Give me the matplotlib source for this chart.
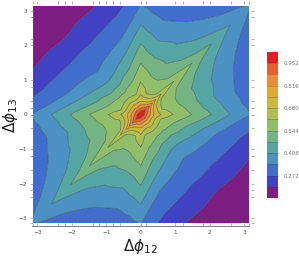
import numpy as np
import matplotlib
matplotlib.use("Agg")
import matplotlib.pyplot as plt
import matplotlib.tri as mtri

W, H = 299, 257

# sample rows y, and positions across each row as the fraction x/y
row_y = [.1, .2, .4, .6, .9, 1.25, 1.75, 2.25, 2.75, np.pi]
frac_x = [-1, -.7, -.45, -.25, -.1, 0, .1, .25, .5, .75, .9, 1]
peak_value = 1.0

# values read from the contours along each row; the rest of the square follows
# f(x,y)=f(y,x)=f(-x,-y), which is visible in the picture
row_01 = [.91, .92, .93, .94, .948, .952, .955, .958, .962, .967, .97, .972]
row_02 = [.775, .80, .825, .85, .862, .868, .874, .882, .895, .908, .92, .925]
row_04 = [.618, .65, .675, .70, .725, .735, .738, .73, .715, .725, .745, .765]
row_06 = [.528, .56, .58, .60, .64, .675, .65, .615, .60, .605, .64, .675]
row_09 = [.42, .465, .525, .555, .59, .617, .60, .57, .558, .562, .59, .62]
row_12 = [.34, .385, .44, .49, .54, .572, .555, .53, .505, .515, .545, .574]
row_17 = [.276, .31, .355, .41, .47, .512, .485, .46, .44, .455, .478, .512]
row_22 = [.198, .25, .295, .335, .40, .452, .425, .39, .385, .398, .422, .451]
row_27 = [.16, .193, .238, .283, .333, .388, .357, .337, .333, .345, .37, .388]
row_31 = [.14, .162, .197, .238, .295, .345, .325, .307, .308, .322, .332, .345]
rows = [row_01, row_02, row_04, row_06, row_09, row_12, row_17, row_22, row_27, row_31]

levels = [.136, .204, .272, .34, .408, .476, .544, .612, .68, .748, .816, .884, .952, 1.02]
cbar_ticks = [.272, .408, .544, .68, .816, .952]
band_colors = ["#7d1e82", "#4141c3", "#416ecd", "#4b91c3", "#55a5a5", "#73b482", "#91be69",
               "#afbe50", "#c8b93c", "#e1aa37", "#eb8c37", "#e65f2d", "#e11e23"]
major_ticks = [-3, -2, -1, 0, 1, 2, 3]
minor_x = [-3.14, -2.4, -2.2, -1.4, -1.2, -.8, -.6, .15, 1.22, 1.8, 2.62, 3.14]
minor_y = [2.82, 2.2, .8, .4, .2, -.4, -1.2, -1.6, -2.2, -2.4, -3.14]

index = {}
xs, ys, zs = [], [], []


def node(px, py, v):
    key = (round(px, 6), round(py, 6))
    if key not in index:
        index[key] = len(xs)
        xs.append(px)
        ys.append(py)
        zs.append(v)
    return index[key]


wedge_maps = [lambda x, y: (x, y), lambda x, y: (y, x), lambda x, y: (-x, -y), lambda x, y: (-y, -x)]
triangles = []
nu = len(frac_x)
for m in wedge_maps:
    c0 = node(*m(0.0, 0.0), peak_value)
    ids = [[node(*m(u * y, y), v) for u, v in zip(frac_x, vals)] for y, vals in zip(row_y, rows)]
    for j in range(nu - 1):
        triangles.append([c0, ids[0][j], ids[0][j + 1]])
    for i in range(len(row_y) - 1):
        for j in range(nu - 1):
            a, b, c, d = ids[i][j], ids[i][j + 1], ids[i + 1][j], ids[i + 1][j + 1]
            triangles.append([a, b, d])
            triangles.append([a, d, c])
tri = mtri.Triangulation(np.array(xs), np.array(ys), np.array(triangles))
zs = np.array(zs)

fig = plt.figure(figsize=(W / 100, H / 100), dpi=100)
fig.patch.set_facecolor("white")


def box(l, t, r, b):
    return [l / W, 1 - b / H, (r - l) / W, (b - t) / H]


ax = fig.add_axes(box(32.5, 6, 249, 223))
cf = ax.tricontourf(tri, zs, levels=levels, colors=band_colors, antialiased=True)
ax.tricontour(tri, zs, levels=levels[1:-1], colors="#2a3a3a", linewidths=0.5, alpha=0.6)
ax.set_xlim(-np.pi, np.pi)
ax.set_ylim(-np.pi, np.pi)

grey = "#808080"
for s in ax.spines.values():
    s.set_visible(False)
ax.spines["bottom"].set_visible(True)
ax.spines["bottom"].set_color(grey)
ax.spines["bottom"].set_linewidth(0.7)
ax.spines["bottom"].set_position(("outward", 2.2))
ax.spines["top"].set_position(("outward", 1.4))
ax.spines["right"].set_position(("outward", 1.4))
ax.set_xticks(major_ticks)
ax.set_yticks(major_ticks)
ax.set_xticks(minor_x, minor=True)
ax.set_yticks(minor_y, minor=True)
ax.tick_params(which="both", top=True, right=True, left=True, bottom=True,
               length=2.2, width=0.4, color=grey, labelsize=4.2, labelcolor="#555555", pad=1.5)
ax.tick_params(axis="x", which="both", direction="in", pad=3)
ax.tick_params(axis="y", which="both", direction="out")
for t in ax.xaxis.get_ticklines(minor=False)[1::2] + ax.xaxis.get_ticklines(minor=True)[1::2]:
    t.set_marker(2)
ax.set_xticklabels(["\u22123", "\u22122", "\u22121", "0", "1", "2", "3"])
ax.set_yticklabels(["\u22123", "\u22122", "\u22121", "0", "1", "2", "3"])

plt.rcParams["mathtext.fontset"] = "dejavusans"
fig.text(140 / W, 1 - 247 / H, r"$\Delta\phi_{12}$", fontsize=11, ha="center", va="center", color="#222222")
fig.text(10 / W, 1 - 115 / H, r"$\Delta\phi_{13}$", fontsize=11, ha="center", va="center", rotation=90, color="#222222")

cax = fig.add_axes(box(267, 52, 278, 198))
cb = fig.colorbar(cf, cax=cax, ticks=cbar_ticks, format="%.3f", drawedges=True)
cb.dividers.set_color("#3a3a3a")
cb.dividers.set_alpha(0.35)
cb.dividers.set_linewidth(0.5)
cb.outline.set_visible(False)
cb.ax.tick_params(length=1.2, width=0.3, color="#bbbbbb", labelsize=4.0, labelcolor="#777777", pad=2.5)

fig.savefig("out.png", dpi=100)
